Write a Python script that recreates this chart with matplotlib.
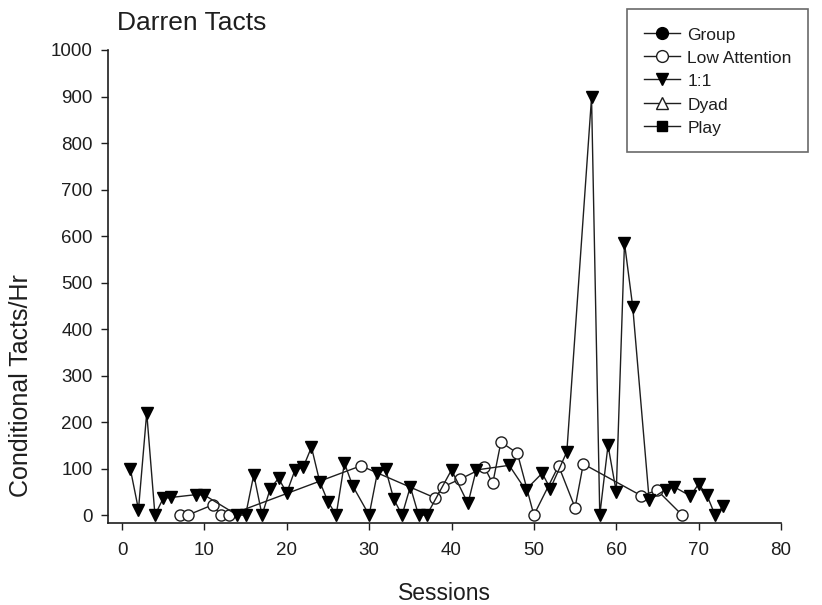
import matplotlib
matplotlib.use("Agg")
import matplotlib.pyplot as plt
from matplotlib.lines import Line2D

plt.rcParams['font.family'] = ['Liberation Sans', 'DejaVu Sans']

# Low Attention sessions and conditional tacts per hour
low_att_sessions = [7, 8, 11, 12, 13, 29, 38, 39, 41, 44, 45, 46, 48, 50, 53, 55, 56, 63, 65, 68]
low_att_values = [0, 0, 22, 0, 0, 106, 37, 61, 77, 103, 68, 157, 133, 0, 106, 16, 110, 42, 53, 0]

# 1:1 sessions and conditional tacts per hour
one_sessions = [1, 2, 3, 4, 5, 6, 9, 10, 14, 15, 16, 17, 18, 19, 20, 21, 22, 23, 24, 25,
                26, 27, 28, 30, 31, 32, 33, 34, 35, 36, 37, 40, 42, 43, 47, 49, 51, 52, 54,
                57, 58, 59, 60, 61, 62, 64, 66, 67, 69, 70, 71, 72, 73]
one_values = [100, 12, 220, 0, 36, 38, 44, 43, 0, 0, 87, 0, 57, 79, 48, 97, 103, 146, 72, 29,
              0, 112, 63, 0, 91, 99, 34, 0, 61, 0, 0, 97, 25, 97, 107, 54, 90, 57, 136,
              898, 0, 150, 50, 585, 448, 32, 55, 61, 41, 67, 43, 0, 19]

legend_labels = ["Group", "Low Attention", "1:1", "Dyad", "Play"]

x_ticks = list(range(0, 81, 10))
y_ticks = list(range(0, 1001, 100))

ink = '#1e1e1e'
fig = plt.figure(figsize=(8.22, 6.05), dpi=100)
ax = fig.add_axes([108 / 822, 82 / 605, (781 - 108) / 822, (523 - 50) / 605])

ax.plot(low_att_sessions, low_att_values, color=ink, lw=1.0, marker='o', ms=8,
        mfc='white', mec=ink, mew=1.0, zorder=3)
ax.plot(one_sessions, one_values, color=ink, lw=1.0, marker='v', ms=8.5,
        mfc='black', mec='black', mew=1.0, zorder=4)

ax.set_xlim(-1.7, 80)
ax.set_ylim(-17, 1000)
ax.set_xticks(x_ticks)
ax.set_yticks(y_ticks)
ax.tick_params(direction='out', length=5, width=1, colors=ink, labelsize=13.5)
ax.tick_params(axis='x', pad=9)
ax.tick_params(axis='y', pad=6)
for s in ['top', 'right']:
    ax.spines[s].set_visible(False)
for s in ['left', 'bottom']:
    ax.spines[s].set_color(ink)
    ax.spines[s].set_linewidth(1.2)

ax.set_xlabel("Sessions", fontsize=16.5, color=ink, labelpad=16)
ax.set_ylabel("Conditional Tacts/Hr", fontsize=18, color=ink)
ax.yaxis.set_label_coords(-0.111, 0.29)
fig.text(117 / 822, 1 - 30 / 605, "Darren Tacts", fontsize=19, color=ink,
         ha='left', va='baseline')

handles = [
    Line2D([], [], color=ink, lw=1, marker='o', ms=8.5, mfc='black', mec='black'),
    Line2D([], [], color=ink, lw=1, marker='o', ms=8.5, mfc='white', mec=ink),
    Line2D([], [], color=ink, lw=1, marker='v', ms=9, mfc='black', mec='black'),
    Line2D([], [], color=ink, lw=1, marker='^', ms=8.5, mfc='white', mec=ink),
    Line2D([], [], color=ink, lw=1, marker='s', ms=7.5, mfc='black', mec='black'),
]
leg = fig.legend(handles, legend_labels, loc='upper right',
                 bbox_to_anchor=(808 / 822, 1 - 9 / 605), bbox_transform=fig.transFigure,
                 fontsize=12.5, frameon=True, fancybox=False, edgecolor='#444444',
                 handlelength=2.1, handleheight=1.1, handletextpad=0.4,
                 labelspacing=0.35, borderpad=0.95, borderaxespad=0)
leg.get_frame().set_linewidth(1.2)
for t in leg.get_texts():
    t.set_color(ink)

fig.savefig("out.png", dpi=100)
